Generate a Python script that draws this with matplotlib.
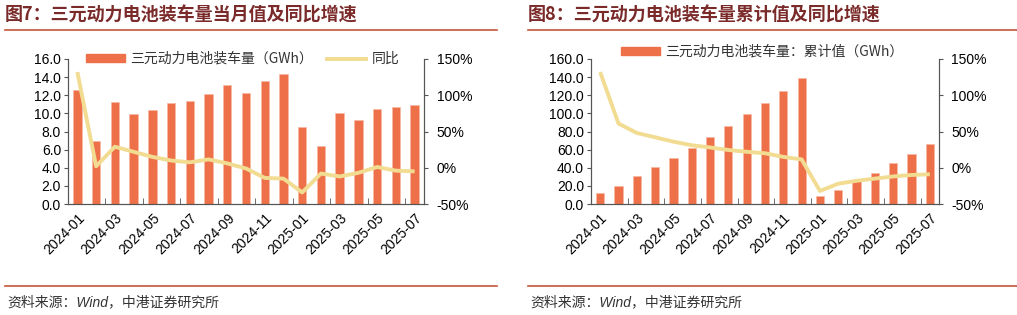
import matplotlib
matplotlib.use("Agg")
import matplotlib.pyplot as plt
import numpy as np
from matplotlib.lines import Line2D

plt.rcParams["font.family"] = ["Liberation Sans", "Noto Sans CJK SC", "DejaVu Sans"]

months = [
    "2024-01", "2024-02", "2024-03", "2024-04", "2024-05", "2024-06", "2024-07",
    "2024-08", "2024-09", "2024-10", "2024-11", "2024-12", "2025-01", "2025-02",
    "2025-03", "2025-04", "2025-05", "2025-06", "2025-07",
]
# monthly installed volume (GWh) and YoY (%)
monthly = [12.6, 6.9, 11.3, 9.9, 10.4, 11.1, 11.4, 12.1, 13.1, 12.2,
           13.6, 14.3, 8.5, 6.4, 10.0, 9.3, 10.5, 10.7, 10.9]
monthly_yoy = [132, 2, 29, 22, 15, 10, 7.5, 11.5, 6, -1,
               -14, -15, -34, -8, -12, -7, 1, -4, -5]
# cumulative installed volume (GWh) and YoY (%)
cumulative = [12.6, 19.5, 30.8, 40.7, 51.1, 62.2, 73.6, 85.7, 98.8, 111.0,
              124.6, 138.9, 8.5, 14.9, 24.9, 34.2, 44.7, 55.4, 66.3]
cumulative_yoy = [132, 61, 48, 42, 36, 31, 28, 24.5, 22, 20,
                  15, 11.5, -32, -22, -18, -15, -12, -10, -9]

BAR = "#EE7048"
LINE = "#F2DC92"
RED = "#C8553A"
TITLE = "#7B2A2A"
W, H = 1017, 315
CJK = ["Noto Sans CJK SC", "DejaVu Sans"]
TICK_FS = 10

fig = plt.figure(figsize=(W / 100, H / 100), dpi=100)


def px_axes(x0, y0, x1, y1):
    return fig.add_axes([x0 / W, 1 - y1 / H, (x1 - x0) / W, (y1 - y0) / H])


def style_axes(ax, ax2, ymax, ystep, fmt):
    x = np.arange(len(months))
    ax.set_xlim(-0.5, len(months) - 0.5)
    ax.set_ylim(0, ymax)
    ax.set_yticks(np.arange(0, ymax + 0.1, ystep))
    ax.set_yticklabels([fmt.format(v) for v in np.arange(0, ymax + 0.1, ystep)], fontsize=TICK_FS)
    ax.set_xticks(x[::2])
    ax.set_xticklabels(months[::2], rotation=45, ha="right", rotation_mode="anchor", fontsize=TICK_FS)
    ax.set_xticks(np.arange(1.5, len(months) - 1, 2), minor=True)
    ax.tick_params(axis="x", which="major", length=0, pad=5)
    ax.tick_params(axis="x", which="minor", length=4, direction="in", color="#555555")
    ax.tick_params(axis="y", length=3, color="#555555", pad=2)
    ax2.set_ylim(-50, 150)
    ax2.set_yticks([-50, 0, 50, 100, 150])
    ax2.set_yticklabels(["-50%", "0%", "50%", "100%", "150%"], fontsize=TICK_FS)
    ax2.tick_params(axis="y", length=3, color="#555555", pad=6)
    for a in (ax, ax2):
        a.spines["top"].set_visible(False)
        for s in ("left", "right", "bottom"):
            a.spines[s].set_color("#555555")
            a.spines[s].set_linewidth(0.8)


def draw_panel(x0, x1, bars, yoy, ymax, ystep, title, bar_label, line_label, legend_y):
    ax = px_axes(x0, 59, x1, 204)
    ax2 = ax.twinx()
    x = np.arange(len(months))
    ax.bar(x, bars, width=0.45, color=BAR, edgecolor="#F7B9A3", linewidth=0.5, zorder=2)
    ax2.plot(x, yoy, color=LINE, linewidth=2.8, solid_capstyle="butt", zorder=3)
    ax.set_zorder(ax2.get_zorder() - 1)
    ax.patch.set_visible(False)
    style_axes(ax, ax2, ymax, ystep, "{:.1f}")

    handles = [plt.Rectangle((0, 0), 1, 1, color=BAR)]
    labels = [bar_label]
    if line_label:
        handles.append(Line2D([0], [0], color=LINE, lw=2.8))
        labels.append(line_label)
    ax2.legend(handles, labels, loc="center left", frameon=False, ncol=2,
               bbox_to_anchor=(legend_y[0] / W, 1 - legend_y[1] / H),
               bbox_transform=fig.transFigure, prop={"family": CJK, "size": 10},
               handlelength=2.8, handleheight=0.5, handletextpad=0.4,
               columnspacing=1.0, borderpad=0, borderaxespad=0, labelcolor="#333333")

    tx = x0 - 63
    fig.text(tx / W, 1 - 15 / H, title, fontsize=13, fontweight="bold",
             color=TITLE, family=CJK, va="center", ha="left")
    fig.add_artist(Line2D([(x0 - 63) / W, (x0 + 429) / W], [1 - 30 / H] * 2,
                          color=RED, lw=1.2))
    fig.add_artist(Line2D([(x0 - 63) / W, (x0 + 429) / W], [1 - 286 / H] * 2,
                          color=RED, lw=1.2))
    fig.text((tx + 2) / W, 1 - 302 / H, "资料来源：Wind，中港证券研究所", fontsize=10,
             style="italic", color="#333333", family=["Liberation Sans"] + CJK,
             va="center", ha="left")


draw_panel(68, 424, monthly, monthly_yoy, 16, 2.0,
           "图7：三元动力电池装车量当月值及同比增速",
           "三元动力电池装车量（GWh）", "同比", (86, 59))
draw_panel(591, 939, cumulative, cumulative_yoy, 160, 20.0,
           "图8：三元动力电池装车量累计值及同比增速",
           "三元动力电池装车量：累计值（GWh）", None, (621, 52))

fig.savefig("out.png", dpi=100)
